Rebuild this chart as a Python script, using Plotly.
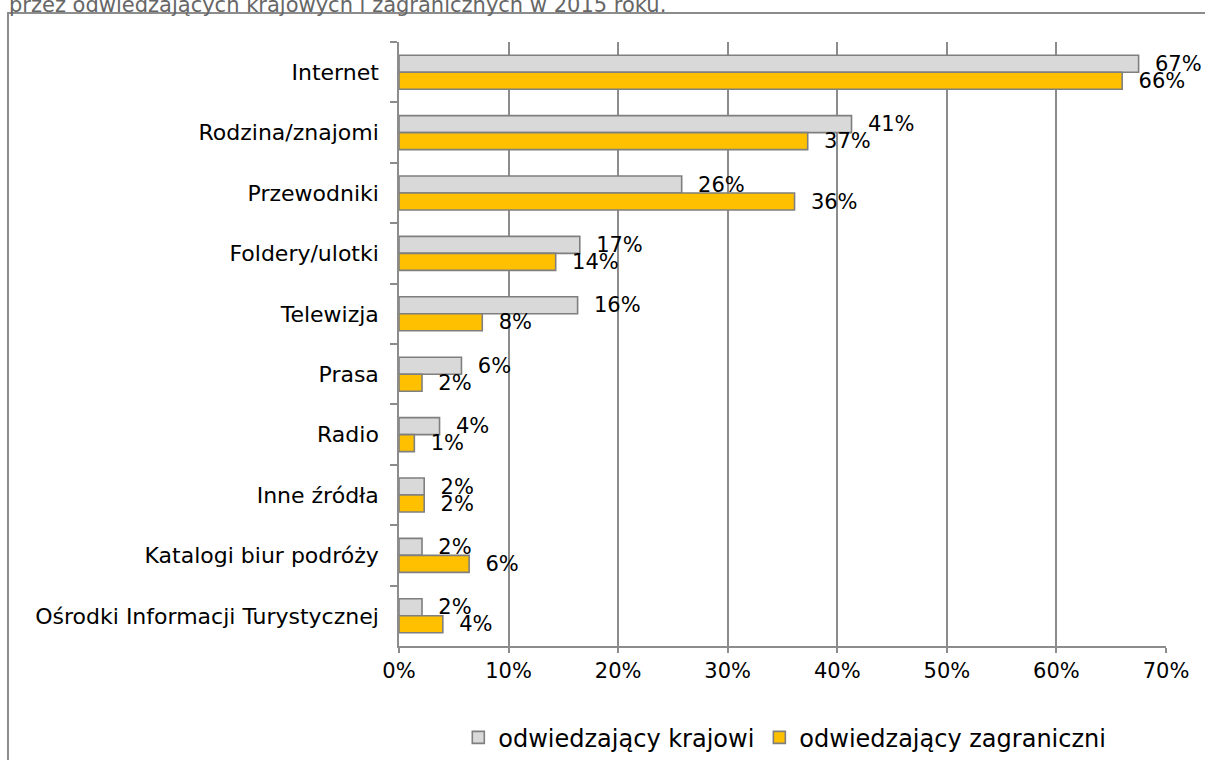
import plotly.graph_objects as go

categories = ["Internet", "Rodzina/znajomi", "Przewodniki", "Foldery/ulotki", "Telewizja",
              "Prasa", "Radio", "Inne źródła", "Katalogi biur podróży",
              "Ośrodki Informacji Turystycznej"]
krajowi = [67.5, 41.3, 25.8, 16.5, 16.3, 5.7, 3.7, 2.3, 2.1, 2.1]
zagraniczni = [66.0, 37.3, 36.1, 14.3, 7.6, 2.1, 1.4, 2.3, 6.4, 4.0]
krajowi_labels = ["67%", "41%", "26%", "17%", "16%", "6%", "4%", "2%", "2%", "2%"]
zagraniczni_labels = ["66%", "37%", "36%", "14%", "8%", "2%", "1%", "2%", "6%", "4%"]
x_ticks = [0, 10, 20, 30, 40, 50, 60, 70]
x_tick_labels = ["0%", "10%", "20%", "30%", "40%", "50%", "60%", "70%"]
series_names = ["odwiedzający krajowi", "odwiedzający zagraniczni"]
title_text = "przez odwiedzających krajowych i zagranicznych w 2015 roku."

FONT = "DejaVu Sans"
GRID = "#8c8c8c"
pad = "\u00a0\u00a0"

fig = go.Figure()
fig.add_trace(go.Bar(
    y=categories, x=krajowi, orientation="h", name=series_names[0],
    marker=dict(color="#D9D9D9", line=dict(color="#7F7F7F", width=1.6)),
    text=[pad + t for t in krajowi_labels], textposition="outside",
    constraintext="none", cliponaxis=False,
    textfont=dict(family=FONT, size=21, color="#000000"),
))
fig.add_trace(go.Bar(
    y=categories, x=zagraniczni, orientation="h", name=series_names[1],
    marker=dict(color="#FFC000", line=dict(color="#7F7F7F", width=1.6)),
    text=[pad + t for t in zagraniczni_labels], textposition="outside",
    constraintext="none", cliponaxis=False,
    textfont=dict(family=FONT, size=21, color="#000000"),
))

fig.add_shape(type="rect", xref="paper", yref="paper",
              x0=-0.5098, x1=1.2, y0=-0.4, y1=1.048,
              line=dict(color="#8c8c8c", width=2), fillcolor="rgba(0,0,0,0)", layer="below")

fig.add_annotation(text=title_text, xref="paper", yref="paper", x=-0.5115, y=1.0389,
                   xanchor="left", yanchor="bottom", showarrow=False,
                   font=dict(family=FONT, size=21, color="#666666"))

fig.update_layout(
    width=1205, height=760,
    margin=dict(l=399, r=39, t=42, b=114, autoexpand=False),
    paper_bgcolor="white", plot_bgcolor="white",
    barmode="group", bargap=0.437, bargroupgap=0,
    font=dict(family=FONT, size=22, color="#000000"),
    showlegend=True,
    legend=dict(orientation="h", x=0.503, xanchor="center", y=-0.152, yanchor="middle",
                font=dict(family=FONT, size=24, color="#000000"),
                itemwidth=30, traceorder="normal"),
)
fig.update_xaxes(range=[0, 70], tickvals=x_ticks, ticktext=x_tick_labels,
                 showgrid=True, gridcolor=GRID, gridwidth=1.5,
                 showline=True, linecolor=GRID, linewidth=1.5,
                 ticks="outside", ticklen=5, tickcolor=GRID, tickwidth=1.5,
                 zeroline=False, tickfont=dict(family=FONT, size=21, color="#000000"))
fig.update_yaxes(autorange="reversed", showgrid=False,
                 showline=True, linecolor=GRID, linewidth=1.5,
                 ticks="outside", tickson="boundaries", ticklen=7, tickcolor=GRID, tickwidth=1.5,
                 tickfont=dict(family=FONT, size=22, color="#000000"), ticksuffix="  ")

fig.write_html("out.html", config={"displayModeBar": False},
               post_script="document.body.style.margin='0px';")
